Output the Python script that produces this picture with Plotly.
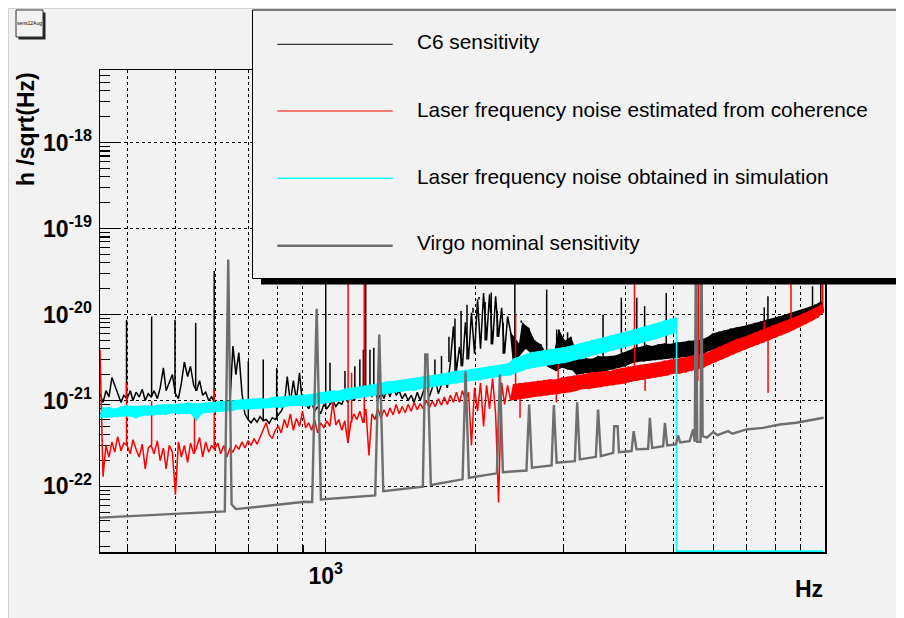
import math
import plotly.graph_objects as go

# ---------------------------------------------------------------- data
UNIT = 1e-21  # all spectral values below are in units of 1e-21 /sqrt(Hz)

# shared frequency grid (Hz) of the measured spectra
freq_hz = [
    352, 357, 362, 367, 372, 377, 382, 388, 393, 399,
    405, 410, 416, 422, 428, 434, 440, 446, 452, 459,
    465, 472, 478, 485, 492, 499, 506, 513, 520, 528,
    535, 543, 550, 558, 566, 574, 582, 590, 598, 607,
    615, 624, 633, 642, 651, 660, 669, 679, 688, 698,
    708, 718, 728, 738, 749, 759, 770, 781, 792, 803,
    814, 826, 837, 849, 861, 873, 886, 898, 911, 924,
    937, 950, 963, 977, 991, 1005, 1019, 1033, 1048, 1062,
    1077, 1092, 1108, 1123, 1139, 1155, 1171, 1188, 1204, 1221,
    1238, 1256, 1273, 1291, 1309, 1328, 1346, 1365, 1385, 1404,
    1424, 1444, 1464, 1485, 1505, 1527, 1548, 1570, 1592, 1614,
    1637, 1660, 1683, 1707, 1731, 1755, 1780, 1805, 1830, 1856,
    1882, 1908, 1935, 1962, 1990, 2018, 2046, 2075, 2104, 2133,
    2163, 2194, 2224, 2256, 2287, 2319, 2352, 2385, 2418, 2452,
    2487, 2522, 2557, 2593, 2629, 2666, 2704, 2742, 2780, 2819,
    2859, 2899, 2940, 2981, 3023, 3065, 3108, 3152, 3196, 3241,
    3287, 3333, 3380, 3427, 3475, 3524, 3574, 3624, 3675, 3726,
    3779, 3832, 3886, 3940, 3996, 4052, 4109, 4166, 4225, 4284,
    4344, 4405, 4467, 4530, 4594, 4658, 4724, 4790, 4857, 4925,
    4995, 5065, 5136, 5208, 5281, 5355, 5430, 5506, 5583, 5661,
    5740, 5820, 5902, 5985, 6069, 6154, 6240, 6327, 6416, 6506,
    6597, 6689, 6783, 6878, 6974, 7072, 7171, 7271, 7373, 7476,
    7581, 7687, 7795, 7904, 8015, 8127, 8241, 8356, 8473, 8592,
    8712, 8834, 8958, 9083, 9210, 9339, 9470, 9603, 9737, 9873,
    9990,
]

# C6 sensitivity (black)
c6_sens = [
    1.2, 0.95, 1.3, 1.1, 1.85, 1.5, 1.2, 0.95, 1.15,
    1.05, 1.3, 1.0, 1.25, 1.1, 1.35, 1.0, 1.2, 1.1, 1.3, 1.05, 1.4, 2.4, 1.3,
    1.6, 2.0, 1.2, 1.05, 1.6, 2.8, 1.9, 2.5, 1.5, 1.3, 1.7, 1.15, 1.25, 1.0,
    1.1, 0.95, 0.85, 0.95, 0.88, 0.92, 0.9, 4.3, 2.0, 3.6, 1.2,
    0.7, 0.6, 0.55, 0.62, 0.56, 0.65, 0.58, 0.6, 0.54, 0.63, 0.6, 0.68, 0.75,
    0.9, 1.9, 0.95, 1.7, 1.0, 2.1, 0.9, 0.95,
    0.8, 0.95, 0.75, 0.85, 0.7, 0.9, 0.8,
    0.9, 1.0, 0.85, 0.95, 0.9, 1.1, 0.95, 1.2, 1.0, 1.4, 1.1, 1.5, 1.2, 1.4,
    1.1, 1.3, 1.0,
    1.3, 1.05, 1.4, 1.1, 1.5, 1.15, 1.3, 1.05, 1.2, 1.0, 1.15, 0.95, 1.25,
    1.0, 1.3, 1.6, 1.1, 1.4, 1.8, 1.2, 1.5, 1.9, 1.4,
    2.8, 7.3, 2.2, 4.2, 2.5, 8.1, 3.0, 10.5, 3.5, 15, 4.0, 17.8, 5.0, 17.2,
    4.5, 16.3, 5.5, 12, 3.5, 9.5,
    6.2, 2.6, 3.0, 4.5, 8.0, 4.0, 7.0, 3.5, 5.0, 3.0, 4.5, 2.6, 3.5, 2.4, 3.2,
    2.2, 6.7, 2.4, 5.0, 2.3, 5.5, 2.2,
    2.0, 3.0, 2.05, 3.1, 2.1, 3.05, 2.05, 3.3, 2.15, 3.25,
    2.25, 3.3, 2.3, 3.35, 2.4, 3.6, 2.5, 3.8, 2.7, 4.1,
    2.8, 4.2, 2.85, 4.45, 2.9, 4.3, 2.95, 4.5, 3.0, 4.6,
    3.05, 4.55, 3.1, 4.75, 3.15, 4.8, 3.2, 4.95, 3.25, 5.0,
    3.35, 5.1, 3.5, 5.4, 3.8, 6.0, 4.0, 6.3, 4.2, 6.6,
    4.4, 6.9, 4.6, 7.1, 4.8, 7.3, 5.0, 7.6, 5.3, 8.0,
    5.5, 8.3, 5.8, 8.7, 6.0, 9.1, 6.3, 9.5, 6.6, 10.0,
    6.9, 10.4, 7.3, 10.9, 7.7, 11.5, 8.2, 12.2, 8.7, 13.0,
    9.4, 14.2, 11.0,
]
c6_lines_hz = [398, 447, 498, 548, 597, 699, 749, 797, 1000, 1020, 1093, 1144,
               1171, 1190, 1203, 1227, 1249, 1581, 1657, 1708,
               1768, 1818, 1870, 1922, 1976, 2032, 2090, 2150, 2210, 2272,
               2398, 2470, 2540, 2778, 2910, 3060,
               3606, 3924, 4215, 4370, 4830, 5610, 7600, 7730, 9500, 9870]
c6_lines = [8.7, 9.5, 8.7, 8.0, 32, 2.86, 3.0, 2.4, 60, 2.75, 2.2, 2.5,
            3.0, 3.9, 60, 3.9, 4.1, 3.4, 3.0, 3.3,
            5.5, 9.0, 11.0, 13.0, 12.0, 16.0, 14.0, 18.0, 11.0, 8.0,
            60, 8.5, 6.0, 19.5, 6.7, 6.2,
            10, 15.7, 15.7, 12.5, 17.8, 60, 12.1, 16.3, 21.3, 40]

# Laser frequency noise estimated from coherence (red)
lfn_coh = [
    3.9, 0.13, 0.3, 0.22, 0.33, 0.25, 0.38, 0.26, 0.32,
    0.3, 0.24, 0.35, 0.27, 0.22, 0.31, 0.16, 0.28,
    0.3, 0.24, 0.34, 0.2, 0.28, 0.16, 0.3, 0.25,
    0.08,
    0.33, 0.22, 0.3, 0.19, 0.32, 0.24,
    0.28, 0.37, 0.22, 0.33, 0.25, 0.3,
    0.27, 0.32, 0.24, 0.3, 0.22, 0.28, 0.25, 0.3, 0.27, 0.33, 0.28, 0.34, 0.3,
    0.36, 0.31, 0.38, 0.45, 0.55, 0.4, 0.36, 0.45,
    0.5, 0.42, 0.6, 0.48, 0.7, 0.45, 0.62, 0.5, 0.75, 0.48,
    0.55, 0.45, 0.6, 0.42, 0.55, 0.48, 0.58, 0.5, 0.95, 0.52, 0.6, 0.45, 0.58,
    0.32,
    0.55, 0.7, 0.6, 0.75, 0.55, 0.8, 0.23,
    0.7, 0.6, 0.8, 0.62, 0.78, 0.65, 0.82, 0.68, 0.9, 0.7, 0.85, 0.72, 0.9,
    0.75, 0.95, 0.78, 0.92, 0.8, 1.0, 0.82, 0.98, 0.85, 1.05, 0.88, 1.1, 0.9,
    1.15, 0.95, 1.25, 0.95, 1.3, 1.0, 1.25,
    0.3, 1.4, 0.75, 1.6, 0.5, 1.5, 0.8, 1.8, 0.7, 0.065, 1.6, 0.9, 1.5,
    1.0, 1.55, 1.02, 1.6, 1.05, 1.62, 1.07, 1.65, 1.1, 1.7,
    1.12, 1.72, 1.15, 1.76, 1.18, 1.75, 1.2, 1.85, 1.22, 1.9,
    1.25, 1.95, 1.3, 2.0, 1.36, 2.05, 1.36, 2.15, 1.4, 2.15,
    1.43, 2.2, 1.47, 2.2, 1.5, 2.33, 1.55, 2.4, 1.58, 2.5,
    1.65, 2.55, 1.7, 2.6, 1.75, 2.65, 1.8, 2.7, 1.85, 2.8,
    1.9, 2.9, 1.95, 3.0, 2.05, 3.1, 2.05, 3.15, 2.1, 3.25,
    2.2, 3.4, 2.3, 3.45, 2.4, 3.6, 2.6, 3.9, 2.8, 4.2,
    3.0, 4.5, 3.2, 4.8, 3.45, 5.2, 3.7, 5.45, 3.95, 5.8,
    4.2, 6.2, 4.45, 6.6, 4.75, 7.0, 5.05, 7.45, 5.4, 8.0,
    5.75, 8.4, 6.15, 8.9, 6.6, 9.5, 7.1, 10.2, 7.7, 11.0,
    8.4, 11.9, 9.2, 13.0, 10.5,
]
lfn_coh_lines_hz = [398, 447, 545, 597, 1109, 1127, 1195, 2406, 2456, 2905,
                    2930, 4170, 4380, 5590, 5600, 7600, 7734, 8600, 9960]
lfn_coh_lines = [1.6, 0.98, 0.86, 1.34, 60, 2.1, 60, 10, 0.63, 0.95,
                 3.3, 60, 1.3, 1.68, 60, 8.3, 1.23, 60, 60]

# Laser frequency noise obtained in simulation (cyan), up to 5 kHz; zero above
lfn_sim = [
    0.63, 0.83, 0.63, 0.84, 0.64, 0.80, 0.64, 0.85, 0.65, 0.88,
    0.65, 0.86, 0.62, 0.87, 0.66, 0.88, 0.67, 0.86, 0.67, 0.89,
    0.68, 0.90, 0.68, 0.90, 0.71, 0.91, 0.69, 0.92, 0.70, 0.94,
    0.70, 0.93, 0.58, 0.93, 0.71, 0.95, 0.72, 0.96, 0.73, 0.97,
    0.74, 0.97, 0.75, 1.0, 0.76, 1.01, 0.79, 1.03, 0.78, 1.04,
    0.79, 1.05, 0.80, 1.07, 0.81, 1.05, 0.82, 1.1, 0.83, 1.11,
    0.82, 1.12, 0.85, 1.14, 0.86, 1.15, 0.87, 1.16,
    0.85, 1.18, 0.87, 1.21, 0.89, 1.24, 0.92, 1.28, 0.94, 1.31,
    0.96, 1.30, 0.99, 1.37, 1.01, 1.41, 1.04, 1.44, 1.06, 1.48,
    1.09, 1.52, 1.12, 1.56, 1.15, 1.60, 1.17, 1.68, 1.20, 1.68,
    1.24, 1.72,
    1.27, 1.76, 1.30, 1.81, 1.30, 1.85, 1.36, 1.90, 1.40, 1.95,
    1.43, 2.00, 1.47, 2.05, 1.51, 2.10, 1.55, 2.20, 1.58, 2.21,
    1.62, 2.26, 1.67, 2.32, 1.71, 2.38, 1.72, 2.44, 1.79, 2.50,
    1.84, 2.56, 1.89, 2.63, 1.93, 2.69,
    1.96, 3.07, 2.08, 3.27, 2.21, 3.48, 2.34, 3.66, 2.43, 3.75,
    2.49, 3.84, 2.54, 4.0, 2.61, 4.03, 2.67, 4.12, 2.72, 4.25,
    2.85, 4.44, 2.98, 4.64, 3.05, 4.84, 3.25, 5.06, 3.39, 5.25,
    3.51, 5.47, 3.66, 5.70, 3.81, 6.0, 3.97, 6.19, 4.14, 6.44,
    4.32, 6.73, 4.52, 7.05, 4.65, 7.37, 4.94, 7.70, 5.16, 8.05,
    5.44, 8.54, 5.72, 8.91, 5.96, 9.27,
]
lfn_sim_zero_hz = [5065, 9990]

# Virgo nominal sensitivity (grey)
virgo_hz = [352, 627, 637, 647, 660, 908, 939, 959, 978, 1257, 1281, 1305,
            1567, 1585, 1600, 1626, 1883, 1909, 1939, 2207, 2238, 2269,
            2530, 2562, 2595, 2842, 2872, 2909, 3165, 3199, 3239,
            3488, 3524, 3569, 3779, 3797, 3857, 3881, 4114, 4155, 4210,
            4441, 4478, 4524, 4761, 4800, 4850, 5050, 5100, 5150,
            5380, 5470, 5510, 5540, 5575, 5660, 5685, 5715,
            5830, 6000, 6120, 6430, 6560, 7000, 7550, 8166, 8810, 9526, 10000]
virgo_nom = [0.0433, 0.0513, 43.6, 0.062, 0.0545, 0.0662, 0.066, 11.65,
             0.0707, 0.0787, 5.85, 0.088, 0.0992, 3.43, 3.43, 0.104, 0.121,
             2.19, 0.126, 0.142, 2.0, 0.1465, 0.153, 0.898, 0.165, 0.175,
             0.882, 0.189, 0.197, 0.955, 0.206, 0.221, 0.786, 0.225, 0.246,
             0.502, 0.502, 0.25, 0.258, 0.44, 0.27, 0.274, 0.629, 0.281,
             0.294, 0.55, 0.30, 0.308, 0.392, 0.325, 0.336, 0.46, 0.33, 60,
             0.33, 0.33, 60, 0.385, 0.37, 0.43, 0.396, 0.44, 0.41, 0.46,
             0.48, 0.526, 0.55, 0.601, 0.629]

series_names = ["C6 sensitivity",
                "Laser frequency noise estimated from coherence",
                "Laser frequency noise obtained in simulation",
                "Virgo nominal sensitivity"]

# axis ticks
x_major = [1000]
x_major_text = ["10<sup>3</sup>"]
x_minor = [400, 500, 600, 700, 800, 900, 2000, 3000, 4000, 5000, 6000,
           7000, 8000, 9000]
y_major = [1e-22, 1e-21, 1e-20, 1e-19, 1e-18]
y_major_text = ["10<sup>-22</sup>", "10<sup>-21</sup>", "10<sup>-20</sup>",
                "10<sup>-19</sup>", "10<sup>-18</sup>"]
X_LOG_RANGE = [2.5466, 4.0028]
Y_LOG_RANGE = [-22.763, -17.155]
y_minor = [k * 10.0 ** e for e in range(-23, -17) for k in range(2, 10)
           if Y_LOG_RANGE[0] < e + math.log10(k) < Y_LOG_RANGE[1]]

# ---------------------------------------------------------------- geometry
W, H = 904, 618
OFF = 8                      # the page body margin
L, R, T, B = 100, 825, 70, 552   # plot frame, in window pixels


def px(x):
    return (x - L) / (R - L)


def py(y):
    return (B - y) / (B - T)


FONT = "Liberation Sans, Arial, Helvetica, sans-serif"
BLACK, RED, CYAN, GREY = "#000000", "#ff0000", "#00ffff", "#6e6e6e"


def line_spikes(fs, vs, sf, sv):
    """narrow spectral lines from the spectrum level at the nearest bin"""
    xs, ys = [], []
    for f, v in zip(sf, sv):
        k = min(range(len(vs)), key=lambda j: abs(fs[j] - f))
        xs += [f, f, None]
        ys += [vs[k] * UNIT, v * UNIT, None]
    return xs, ys


def noise_band(fs, vs, start=0):
    """envelope of neighbouring sample pairs: the larger sample of each pair
    forms the upper edge, the smaller one the lower edge"""
    f, v = fs[start:], vs[start:]
    up, dn = [], []
    for j in range(0, len(f) - 1, 2):
        hi, lo = (j, j + 1) if v[j] >= v[j + 1] else (j + 1, j)
        up.append((f[hi], v[hi]))
        dn.append((f[lo], v[lo]))
    if len(f) % 2:
        up.append((f[-1], v[-1]))
        dn.append((f[-1], v[-1]))
    pts = up + dn[::-1]
    return [p[0] for p in pts], [p[1] * UNIT for p in pts]


fig = go.Figure()


def add_series(fs, vs, color, name, width, band_start=None,
               lines_f=None, lines_v=None):
    if band_start is not None:
        bx, by = noise_band(fs, vs, band_start)
        fig.add_trace(go.Scatter(x=bx, y=by, mode="lines", fill="toself",
                                 fillcolor=color, line=dict(width=0),
                                 name=name))
    fig.add_trace(go.Scatter(x=fs, y=[v * UNIT for v in vs], mode="lines",
                             name=name, line=dict(color=color, width=width)))
    if lines_f:
        sx, sy = line_spikes(fs, vs, lines_f, lines_v)
        fig.add_trace(go.Scatter(x=sx, y=sy, mode="lines", connectgaps=False,
                                 name=name, line=dict(color=color, width=1.5)))


add_series(freq_hz, c6_sens, BLACK, series_names[0], 1.5, band_start=136,
           lines_f=c6_lines_hz, lines_v=c6_lines)
add_series(freq_hz, lfn_coh, RED, series_names[1], 1.5, band_start=136,
           lines_f=lfn_coh_lines_hz, lines_v=lfn_coh_lines)

# simulation (cyan): zero above 5 kHz, drawn on the axis floor of the log scale
nsim = len(lfn_sim)
bx, by = noise_band(freq_hz[:nsim], lfn_sim)
fig.add_trace(go.Scatter(x=bx, y=by, mode="lines", fill="toself",
                         fillcolor=CYAN, line=dict(width=0),
                         name=series_names[2]))
zero_level = 10 ** (Y_LOG_RANGE[0] + 0.01)
xc = freq_hz[:nsim] + lfn_sim_zero_hz
yc = [v * UNIT for v in lfn_sim] + [zero_level] * len(lfn_sim_zero_hz)
fig.add_trace(go.Scatter(x=xc, y=yc, mode="lines", name=series_names[2],
                         line=dict(color=CYAN, width=1.6)))

# Virgo nominal (grey)
fig.add_trace(go.Scatter(x=virgo_hz, y=[v * UNIT for v in virgo_nom],
                         mode="lines", name=series_names[3],
                         line=dict(color=GREY, width=2.4)))

tickfont = dict(family=FONT, size=23, color="black", weight="bold")

fig.update_xaxes(
    type="log", range=X_LOG_RANGE, showline=True, mirror=True,
    linecolor="black", linewidth=1.5, layer="below traces",
    tickmode="array", tickvals=x_major, ticktext=x_major_text,
    ticks="inside", ticklen=14, tickwidth=1.2, tickcolor="black",
    tickfont=tickfont, ticklabelstandoff=3,
    showgrid=True, gridcolor="black", gridwidth=1,
    griddash="dot", zeroline=False,
    minor=dict(tickmode="array", tickvals=x_minor, ticks="inside", ticklen=7,
               tickwidth=1.2, tickcolor="black", showgrid=True,
               gridcolor="black", gridwidth=1, griddash="dot"),
)
fig.update_yaxes(
    type="log", range=Y_LOG_RANGE, showline=True, mirror=True,
    linecolor="black", linewidth=1.5, layer="below traces",
    tickmode="array", tickvals=y_major, ticktext=y_major_text,
    ticks="inside", ticklen=18, tickwidth=1.2, tickcolor="black",
    tickfont=tickfont, ticklabelstandoff=2,
    showgrid=True, gridcolor="black", gridwidth=1, griddash="dot",
    zeroline=False,
    minor=dict(tickmode="array", tickvals=y_minor, ticks="inside", ticklen=10,
               tickwidth=1.2, tickcolor="black", showgrid=False),
)

shapes = []
# canvas border
shapes.append(dict(type="rect", xref="paper", yref="paper", layer="below",
                   x0=px(OFF + 0.5), x1=px(OFF + W - 0.5),
                   y0=py(OFF + H - 0.5), y1=py(OFF + 0.5),
                   line=dict(color="#d2d2d2", width=1)))
# title box with shadow
shapes.append(dict(type="rect", xref="paper", yref="paper", layer="above",
                   x0=px(18.5), x1=px(45.5), y0=py(39.5), y1=py(12.5),
                   fillcolor="#222222", line=dict(width=0)))
shapes.append(dict(type="rect", xref="paper", yref="paper", layer="above",
                   x0=px(16), x1=px(43), y0=py(37), y1=py(10),
                   fillcolor="#f2f2f2", line=dict(color="#333333", width=1)))
# legend box with shadow
shapes.append(dict(type="rect", xref="paper", yref="paper", layer="above",
                   x0=px(261), x1=px(935), y0=py(284.5), y1=py(16),
                   fillcolor="black", line=dict(width=0)))
shapes.append(dict(type="rect", xref="paper", yref="paper", layer="above",
                   x0=px(252.5), x1=px(925), y0=py(278.5), y1=py(10),
                   fillcolor="#f2f2f2", line=dict(color="black", width=1)))

legend_line_y = [44.3, 111, 178.3, 245.7]
legend_text_y = [41.5, 109.5, 176, 242.5]
legend_colors = [BLACK, RED, CYAN, GREY]
legend_widths = [1, 1, 1.5, 2.5]
annotations = []
for name, ly, ty, c, w in zip(series_names, legend_line_y, legend_text_y,
                              legend_colors, legend_widths):
    shapes.append(dict(type="line", xref="paper", yref="paper", layer="above",
                       x0=px(277.3), x1=px(392.7), y0=py(ly), y1=py(ly),
                       line=dict(color=c, width=w)))
    annotations.append(dict(text=name, xref="paper", yref="paper",
                            x=px(414.5), y=py(ty), xanchor="left",
                            yanchor="middle", showarrow=False,
                            font=dict(family=FONT, size=20.8, color="black")))

annotations.append(dict(text="sens12Aug", xref="paper", yref="paper",
                        x=px(29.5), y=py(23), xanchor="center",
                        yanchor="middle", showarrow=False,
                        font=dict(family=FONT, size=5, color="black")))
annotations.append(dict(text="h /sqrt(Hz)", xref="paper", yref="paper",
                        x=px(26), y=py(70), xanchor="center", yanchor="top",
                        textangle=-90, showarrow=False,
                        font=dict(family=FONT, size=23, color="black",
                                  weight="bold")))
annotations.append(dict(text="Hz", xref="paper", yref="paper",
                        x=px(825), y=py(589), xanchor="right",
                        yanchor="middle", showarrow=False,
                        font=dict(family=FONT, size=23, color="black",
                                  weight="bold")))

fig.update_layout(
    width=W, height=H, autosize=False,
    margin=dict(l=L - OFF, r=W - (R - OFF), t=T - OFF, b=H - (B - OFF), pad=0),
    paper_bgcolor="#f2f2f2", plot_bgcolor="rgba(0,0,0,0)",
    showlegend=False, hovermode=False,
    shapes=shapes, annotations=annotations,
    font=dict(family=FONT, color="black"),
)

fig.write_html("out.html", include_plotlyjs=True,
               config={"displayModeBar": False, "staticPlot": True})
